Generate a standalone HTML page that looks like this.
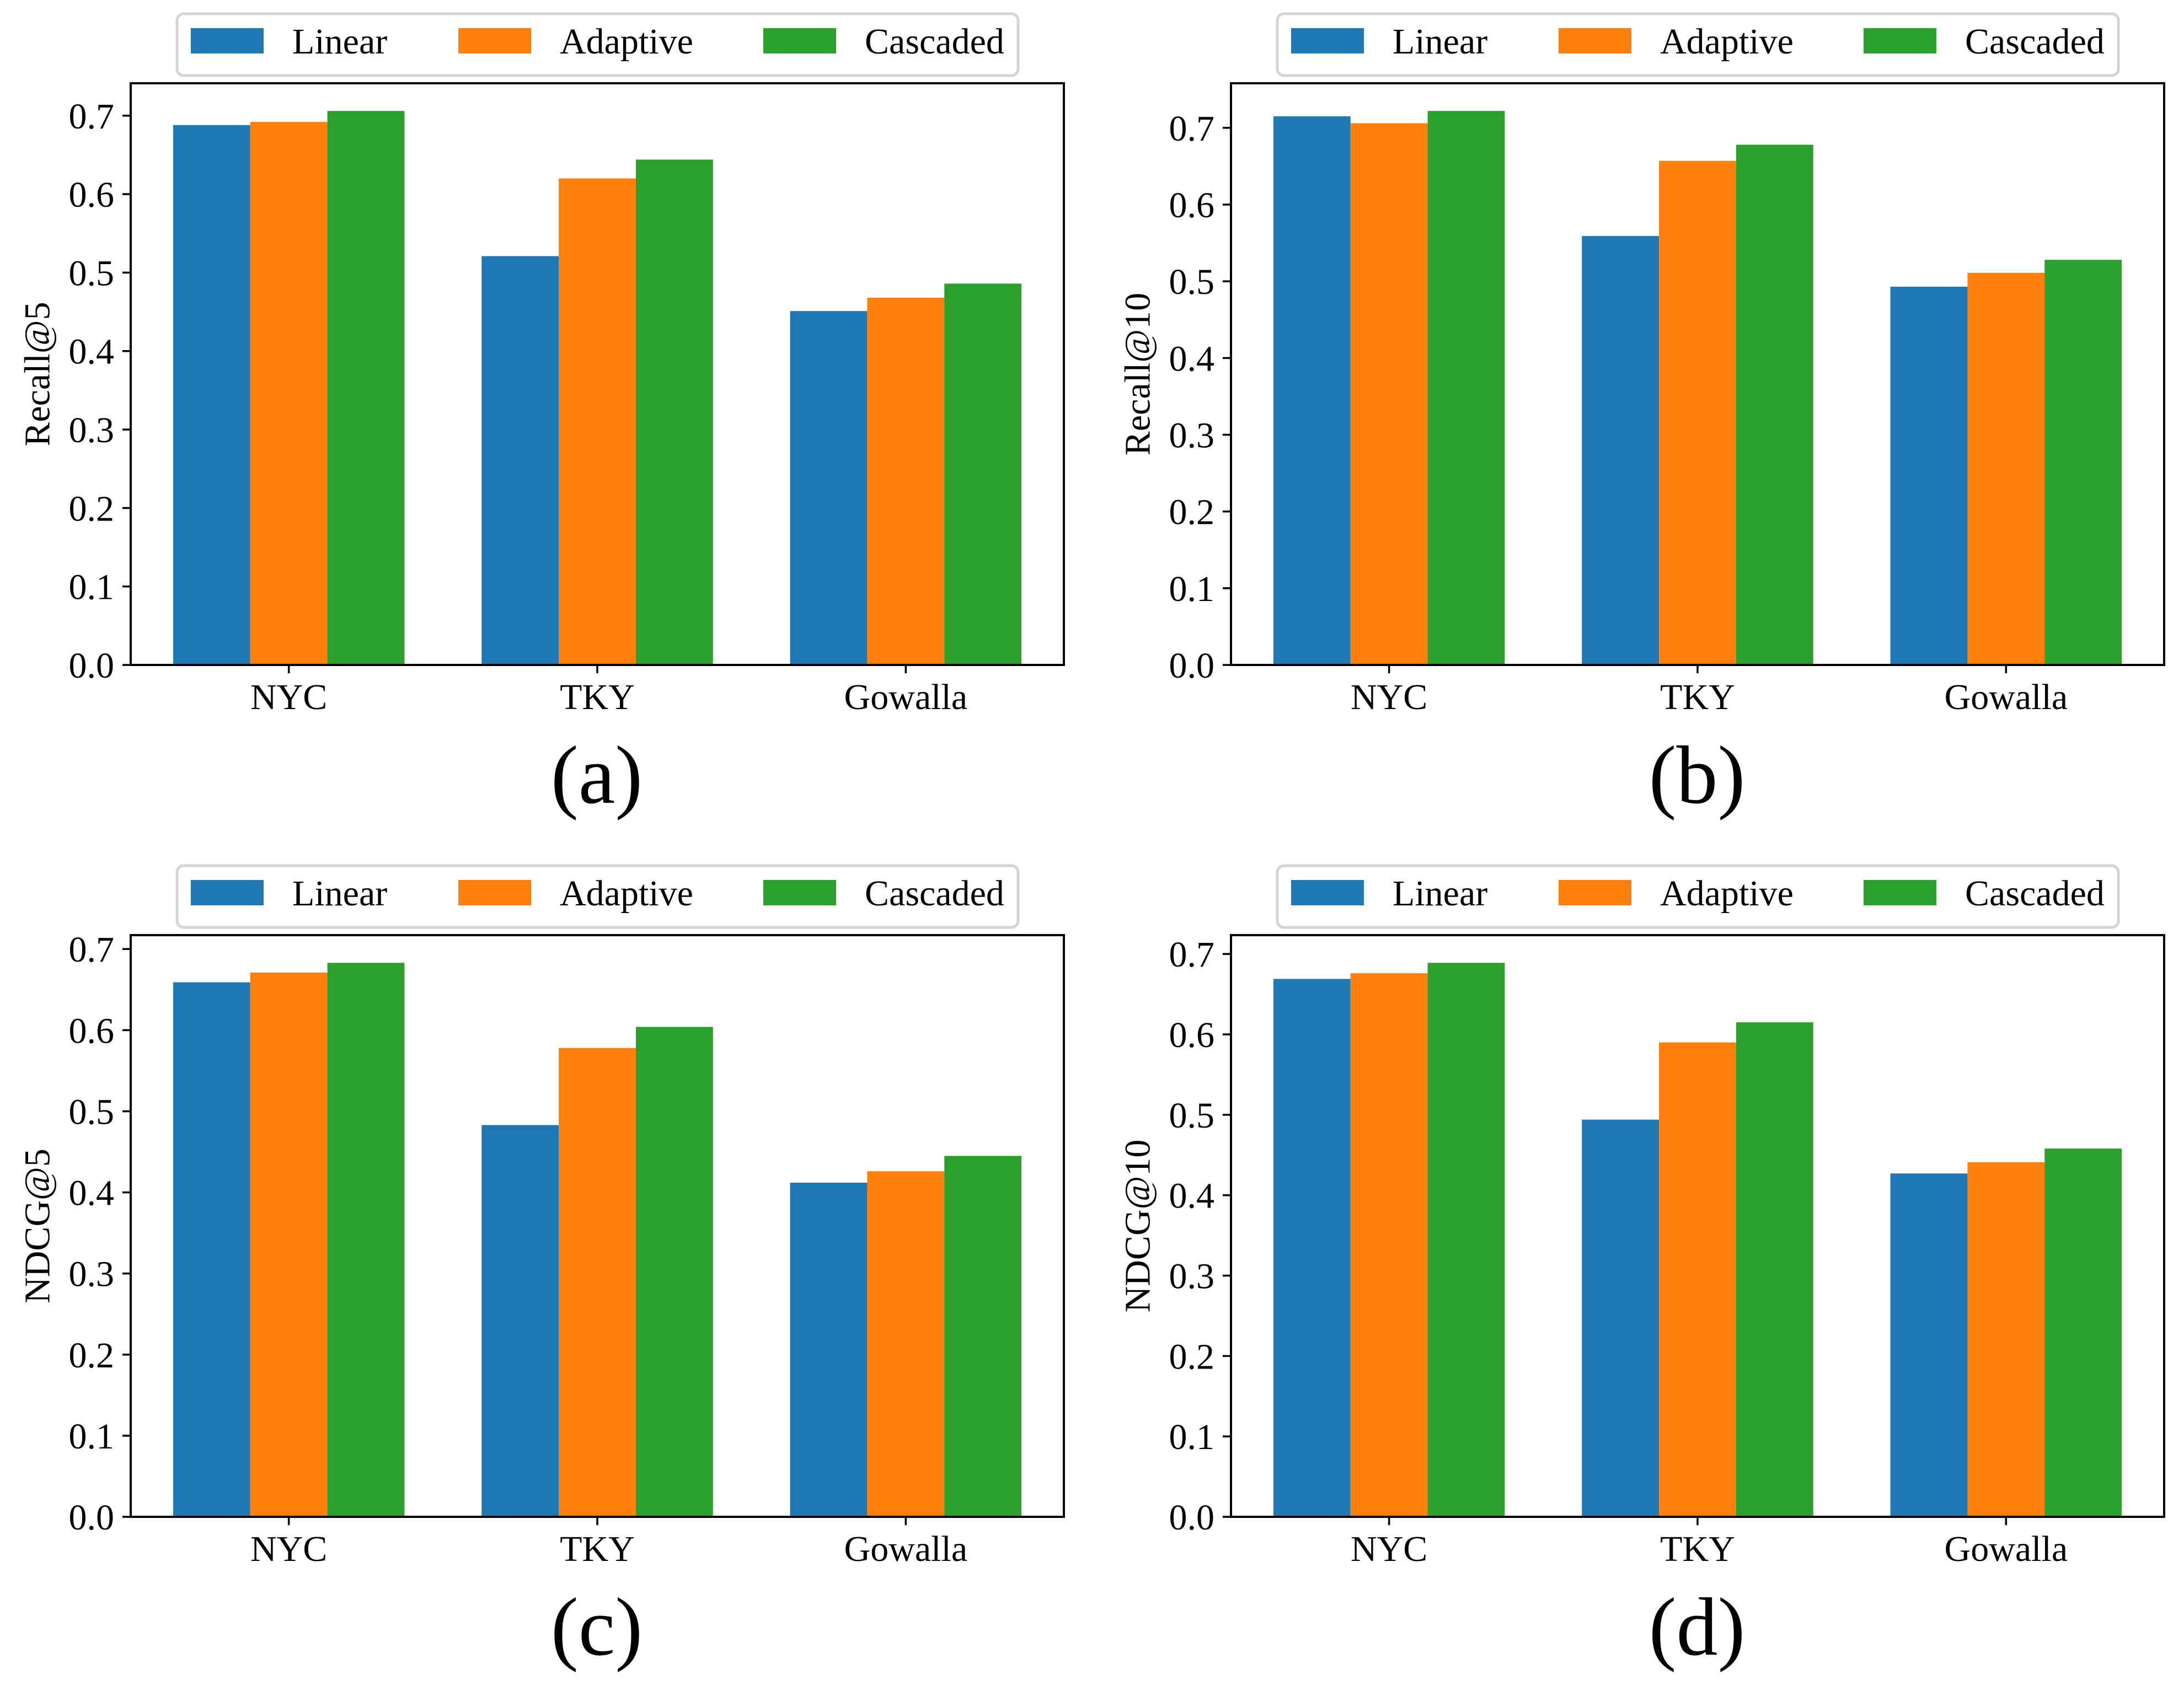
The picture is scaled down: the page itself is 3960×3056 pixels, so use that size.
<!DOCTYPE html>
<html><head><meta charset="utf-8"><style>
html,body{margin:0;padding:0;background:#fff;}
svg{display:block;font-family:"Liberation Serif","Times New Roman",serif;}
</style></head><body>
<svg id="fig" width="3960" height="3056" viewBox="0 0 3960 3056" xmlns="http://www.w3.org/2000/svg"></svg>
<script>
const categories = ["NYC","TKY","Gowalla"];
const seriesNames = ["Linear","Adaptive","Cascaded"];
const yTicks = [0.0,0.1,0.2,0.3,0.4,0.5,0.6,0.7];
const yTickLabels = ["0.0","0.1","0.2","0.3","0.4","0.5","0.6","0.7"];
const recall5Linear = [0.688,0.521,0.451];
const recall5Adaptive = [0.692,0.620,0.468];
const recall5Cascaded = [0.706,0.644,0.486];
const recall10Linear = [0.715,0.559,0.493];
const recall10Adaptive = [0.706,0.657,0.511];
const recall10Cascaded = [0.722,0.678,0.528];
const ndcg5Linear = [0.659,0.483,0.412];
const ndcg5Adaptive = [0.671,0.578,0.426];
const ndcg5Cascaded = [0.683,0.604,0.445];
const ndcg10Linear = [0.669,0.494,0.427];
const ndcg10Adaptive = [0.676,0.590,0.441];
const ndcg10Cascaded = [0.689,0.615,0.458];
const panelLabels = ["(a)","(b)","(c)","(d)"];
const yLabels = ["Recall@5","Recall@10","NDCG@5","NDCG@10"];

const colors = ["#1f77b4","#ff7f0e","#2ca02c"];
const NS = "http://www.w3.org/2000/svg";
const svg = document.getElementById("fig");
function mk(tag, attrs, parent){const e=document.createElementNS(NS,tag);for(const k in attrs)e.setAttribute(k,attrs[k]);(parent||svg).appendChild(e);return e;}

const panels = [
  {x:237,y:151,data:[recall5Linear,recall5Adaptive,recall5Cascaded],name:"recall-at-5"},
  {x:2232,y:151,data:[recall10Linear,recall10Adaptive,recall10Cascaded],name:"recall-at-10"},
  {x:237,y:1696,data:[ndcg5Linear,ndcg5Adaptive,ndcg5Cascaded],name:"ndcg-at-5"},
  {x:2232,y:1696,data:[ndcg10Linear,ndcg10Adaptive,ndcg10Cascaded],name:"ndcg-at-10"}
];
const W=1692,H=1055,barW=0.25;

panels.forEach((p,pi)=>{
  const g = mk("g",{});
  
  
  const maxV = Math.max(...p.data.flat());
  const yMax = maxV*1.05;
  const xMin=-0.5125,xMax=2.5125;
  const xs = v => p.x + (v-xMin)/(xMax-xMin)*W;
  const ys = v => p.y + H - v/yMax*H;
  // bars
  p.data.forEach((series,si)=>{
    series.forEach((v,ci)=>{
      const c = ci + (si-1)*barW;
      const r = mk("rect",{x:xs(c-barW/2),y:ys(v),width:xs(c+barW/2)-xs(c-barW/2),height:ys(0)-ys(v),fill:colors[si]},g);
      
      
    });
  });
  // frame
  const fr = mk("rect",{x:p.x,y:p.y,width:W,height:H,fill:"none",stroke:"#000","stroke-width":4},g);
  
  
  // y ticks
  yTicks.forEach((t,i)=>{
    if(t>yMax) return;
    mk("line",{x1:p.x-15,x2:p.x,y1:ys(t),y2:ys(t),stroke:"#000","stroke-width":3.5},g);
    const tx = mk("text",{x:p.x-30,y:ys(t)+23,"text-anchor":"end","font-size":66},g);
    tx.textContent = yTickLabels[i];
    
    
  });
  // x ticks
  categories.forEach((c,ci)=>{
    mk("line",{x1:xs(ci),x2:xs(ci),y1:p.y+H,y2:p.y+H+15,stroke:"#000","stroke-width":3.5},g);
    const tx = mk("text",{x:xs(ci),y:p.y+H+80,"text-anchor":"middle","font-size":66},g);
    tx.textContent = c;
    
    
  });
  // y label
  const cy = p.y+H/2, cx = p.x-169;
  const yl = mk("text",{x:cx,y:cy,"text-anchor":"middle","font-size":66,transform:`rotate(-90 ${cx} ${cy})`,"dominant-baseline":"central"},g);
  yl.textContent = yLabels[pi];
  
  
  // panel label
  const pl = mk("text",{x:p.x+845,y:p.y+H+250,"text-anchor":"middle","font-size":150},g);
  pl.textContent = panelLabels[pi];
  
  
  // legend
  const lg = mk("g",{},g);
  
  
  const lx = p.x+84, ly = p.y-126;
  mk("rect",{x:lx,y:ly,width:1525,height:112,rx:12,fill:"#fff",stroke:"#d4d4d4","stroke-width":5},lg);
  const patchX=[25,510,1063], textX=[209,694,1247];
  seriesNames.forEach((s,si)=>{
    const pr = mk("rect",{x:lx+patchX[si],y:ly+26,width:132,height:46,fill:colors[si]},lg);
    
    
    const t = mk("text",{x:lx+textX[si],y:ly+72,"font-size":66},lg);
    t.textContent = s;
    
    
  });
});
</script>
</body></html>
